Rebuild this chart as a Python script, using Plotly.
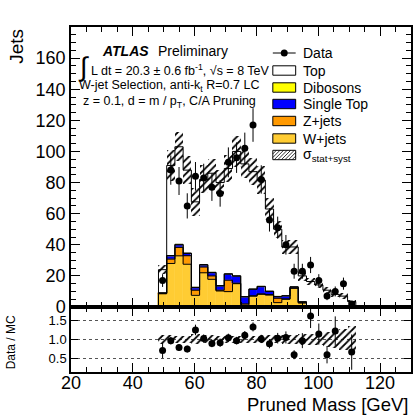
import numpy as np
import plotly.graph_objects as go

# ---------------- data ----------------
bin_lo = 48.3          # GeV, first bin edge
bin_w = 2.66           # GeV, bin width
n_bins = 24

data = [17, 88, 81, 65, 84, 83, 77, 73, 93, 96, 102, 117,
        82, 56, 51, 40, 23, 23, 27, 17, 7, 10, 15, 2]
data_err = [4.1, 9.4, 9.0, 8.1, 9.2, 9.1, 8.8, 8.5, 9.6, 9.8, 10.1, 10.8,
            9.1, 7.5, 7.1, 6.3, 4.8, 4.8, 5.2, 4.1, 2.6, 3.2, 3.9, 1.4]

wjets = [8.5, 28.0, 32.9, 27.5, 7.5, 22.0, 17.8, 10.3, 9.9, 15.0, 1.2, 7.0,
         8.2, 7.7, 2.8, 5.0, 12.0, 2.5, 0.3, 0.3, 0.0, 0.0, 0.0, 0.0]
zjets = [0.3, 2.8, 5.4, 5.5, 3.3, 3.7, 2.2, 0.5, 7.3, 0.3, 0.8, 0.2,
         0.2, 0.3, 2.8, 0.2, 0.3, 0.5, 0.1, 0.0, 0.0, 0.0, 0.0, 0.0]
single_top = [0.2, 2.1, 1.7, 1.4, 1.7, 1.3, 2.1, 2.7, 3.9, 4.5, 4.5, 4.2,
              4.7, 2.0, 1.0, 1.9, 0.6, 0.3, 0.2, 0.2, 0.1, 0.1, 0.0, 0.0]
dibosons = [0.1, 0.2, 0.3, 0.3, 0.2, 0.3, 0.2, 0.3, 0.3, 0.3, 0.2, 0.2,
            0.2, 0.2, 0.2, 0.2, 0.1, 0.1, 0.0, 0.0, 0.0, 0.0, 0.0, 0.0]
top = [14.9, 57.9, 62.7, 53.3, 54.9, 54.7, 63.7, 66.2, 67.6, 79.9, 85.3, 75.4,
       68.3, 52.8, 43.2, 31.2, 25.6, 16.6, 15.8, 13.7, 10.7, 8.0, 7.0, 3.5]
mc_rel_unc = [0.12, 0.11, 0.09, 0.10, 0.13, 0.11, 0.11, 0.10, 0.10, 0.10, 0.10, 0.10,
              0.11, 0.11, 0.11, 0.12, 0.12, 0.15, 0.15, 0.16, 0.20, 0.22, 0.28, 0.35]

ratio = [0.70, 0.965, 0.78, 0.74, 1.25, 1.02, 0.89, 0.91, 1.04, 0.965, 1.11, 1.33,
         1.01, 0.88, 1.03, 1.05, 0.59, 0.965, 1.62, 1.14, 0.59, 1.22, None, 0.66]
ratio_err = [0.20, 0.10, 0.09, 0.09, 0.14, 0.11, 0.10, 0.11, 0.11, 0.10, 0.11, 0.12,
             0.11, 0.12, 0.14, 0.16, 0.12, 0.20, 0.32, 0.28, 0.23, 0.39, None, 0.47]

x_ticks = [20, 40, 60, 80, 100, 120]
y_ticks = [0, 20, 40, 60, 80, 100, 120, 140, 160]
ratio_ticks = [0.5, 1.0, 1.5]
ratio_ticktext = ["0.5", "1.0", "1.5"]

# ---------------- derived ----------------
edges = bin_lo + bin_w * np.arange(n_bins + 1)
centers = edges[:-1] + bin_w / 2

components = [  # bottom to top
    ("W+jets", np.array(wjets), "#FFCC33"),
    ("Z+jets", np.array(zjets), "#FF9900"),
    ("Single Top", np.array(single_top), "#0000FF"),
    ("Dibosons", np.array(dibosons), "#FFFF00"),
    ("Top", np.array(top), "#FFFFFF"),
]
total = sum(c[1] for c in components)
unc = total * np.array(mc_rel_unc)

FONT = "Liberation Sans, Arial, Helvetica, sans-serif"
W, H = 416, 415
ML, MR, MT, MB = 71, 3, 27, 43
PW, PH = W - ML - MR, H - MT - MB
RATIO_BOTTOM_PX = 307


def px2x(px):
    return (px - ML) / PW


def py2y(py):
    return (H - MB - py) / PH


fig = go.Figure()

# stacked fills (bars) in main panel
base = np.zeros(n_bins)
for name, vals, col in components:
    fig.add_trace(go.Bar(x=centers, y=vals, base=base.copy(), width=bin_w,
                         marker=dict(color=col, line=dict(color=col, width=0.5)),
                         showlegend=False, xaxis="x", yaxis="y", hoverinfo="skip"))
    base = base + vals

# uncertainty band main
hatch = dict(shape="/", fgcolor="black", bgcolor="rgba(0,0,0,0)", size=5, solidity=0.35,
             fgopacity=1)
fig.add_trace(go.Bar(x=centers, y=2 * unc, base=total - unc, width=bin_w,
                     marker=dict(color="rgba(0,0,0,0)", pattern=hatch, line=dict(width=0)),
                     showlegend=False, xaxis="x", yaxis="y", hoverinfo="skip"))

# step outlines of cumulative stacks
cum = np.zeros(n_bins)
cums = []
for name, vals, col in components:
    cum = cum + vals
    cums.append(cum.copy())
for c in cums:
    xs = [edges[0]] + list(edges[:-1]) + [edges[-1], edges[-1]]
    ys = [0] + list(c) + [c[-1], 0]
    fig.add_trace(go.Scatter(x=xs, y=ys, mode="lines", line=dict(color="black", width=1, shape="hv"),
                             showlegend=False, xaxis="x", yaxis="y", hoverinfo="skip"))

# data points
fig.add_trace(go.Scatter(x=centers, y=data, mode="markers",
                         marker=dict(color="black", size=7),
                         error_y=dict(type="data", array=data_err, color="black", thickness=1, width=0),
                         showlegend=False, xaxis="x", yaxis="y"))

# ratio band
fig.add_trace(go.Bar(x=centers, y=2 * np.array(mc_rel_unc), base=1 - np.array(mc_rel_unc), width=bin_w,
                     marker=dict(color="rgba(0,0,0,0)", pattern=hatch, line=dict(width=0)),
                     showlegend=False, xaxis="x2", yaxis="y2", hoverinfo="skip"))
# ratio points
fig.add_trace(go.Scatter(x=centers, y=ratio, mode="markers",
                         marker=dict(color="black", size=7),
                         error_y=dict(type="data", array=[e if e is not None else 0 for e in ratio_err],
                                      color="black", thickness=1, width=0),
                         showlegend=False, xaxis="x2", yaxis="y2"))

ratio_top = py2y(RATIO_BOTTOM_PX)
axis_common = dict(showline=True, linecolor="black", linewidth=1.5, mirror="ticks",
                   ticks="inside", tickcolor="black", tickwidth=1, showgrid=False, zeroline=False,
                   tickfont=dict(family=FONT, size=18, color="black"))

fig.update_layout(
    width=W, height=H, margin=dict(l=ML, r=MR, t=MT, b=MB, pad=0),
    paper_bgcolor="white", plot_bgcolor="white", barmode="overlay", bargap=0,
    font=dict(family=FONT, color="black"),
    xaxis=dict(domain=[0, 1], anchor="y", range=[20, 130], tickvals=x_ticks, ticklen=9,
               showticklabels=False,
               minor=dict(dtick=5, tick0=20, ticks="inside", ticklen=5, tickcolor="black"),
               **axis_common),
    yaxis=dict(domain=[ratio_top, 1], anchor="x", range=[0, 180], tickvals=y_ticks, ticklen=9,
               minor=dict(dtick=5, tick0=0, ticks="inside", ticklen=5, tickcolor="black"),
               **axis_common),
    xaxis2=dict(domain=[0, 1], anchor="y2", range=[20, 130], tickvals=x_ticks, ticklen=9,
                ticklabelstandoff=-6,
                minor=dict(dtick=5, tick0=20, ticks="inside", ticklen=5, tickcolor="black"),
                **axis_common),
    yaxis2=dict(domain=[0, ratio_top], anchor="x2", range=[0.13, 1.86], tickvals=ratio_ticks,
                ticktext=ratio_ticktext, ticklen=7,
                **{k: v for k, v in axis_common.items() if k not in ("showgrid", "tickfont")},
                showgrid=True, gridcolor="#555555", griddash="dot", gridwidth=1,
                tickfont=dict(family=FONT, size=13, color="black")),
)

ann = []


def text(px, py, s, size, xanchor="left", yanchor="middle", angle=0):
    ann.append(dict(x=px2x(px), y=py2y(py), xref="paper", yref="paper", text=s, showarrow=False,
                    xanchor=xanchor, yanchor=yanchor, textangle=angle,
                    font=dict(family=FONT, size=size, color="black")))


# axis titles
text(412, 404, "Pruned Mass [GeV]", 18.5, xanchor="right")
text(16, 27, "Jets", 19, xanchor="center", yanchor="top", angle=-90)
text(11, 342, "Data / MC", 12, xanchor="center", angle=-90)

# ATLAS label
text(100, 51, "<b><i>ATLAS</i></b>", 14)
text(156, 51, "Preliminary", 14)
text(84, 67, "∫", 27, xanchor="center")
text(89, 70, "L dt = 20.3 ± 0.6 fb<sup>-1</sup>, √s = 8 TeV", 12.5)
text(170, 86, "W-jet Selection, anti-k<sub>t</sub> R=0.7 LC", 12.5, xanchor="center")
text(170.5, 102, "z = 0.1, d = m / p<sub>T</sub>, C/A Pruning", 12.5, xanchor="center")

# legend
shapes = []
LX0, LX1 = 274, 297
rows = [53, 70.5, 87.5, 104, 121, 138.5, 155]
labels = ["Data", "Top", "Dibosons", "Single Top", "Z+jets", "W+jets",
          "σ<sub>stat+syst</sub>"]
fills = [None, "#FFFFFF", "#FFFF00", "#0000FF", "#FF9900", "#FFCC33", None]
for i, (ry, lab) in enumerate(zip(rows, labels)):
    text(302, ry, lab, 14)
    if i == 0:
        shapes.append(dict(type="line", xref="paper", yref="paper", x0=px2x(LX0), x1=px2x(LX1),
                           y0=py2y(ry), y1=py2y(ry), line=dict(color="black", width=1)))
        r = 3.5
        shapes.append(dict(type="circle", xref="paper", yref="paper",
                           x0=px2x(285.5 - r), x1=px2x(285.5 + r), y0=py2y(ry + r), y1=py2y(ry - r),
                           fillcolor="black", line=dict(color="black", width=0)))
    else:
        y0p, y1p = ry - 4.7, ry + 4.7
        shapes.append(dict(type="rect", xref="paper", yref="paper", x0=px2x(LX0), x1=px2x(LX1),
                           y0=py2y(y1p), y1=py2y(y0p),
                           fillcolor=fills[i] if fills[i] else "rgba(0,0,0,0)",
                           line=dict(color="black", width=1)))
        if fills[i] is None:
            h = y1p - y0p
            s = LX0 - h
            while s < LX1:
                t0 = max(0, LX0 - s)
                t1 = min(h, LX1 - s)
                if t1 > t0:
                    shapes.append(dict(type="line", xref="paper", yref="paper",
                                       x0=px2x(s + t0), y0=py2y(y1p - t0),
                                       x1=px2x(s + t1), y1=py2y(y1p - t1),
                                       line=dict(color="black", width=0.8)))
                s += 3.6

fig.update_layout(annotations=ann, shapes=shapes)
fig.write_html("out.html")
